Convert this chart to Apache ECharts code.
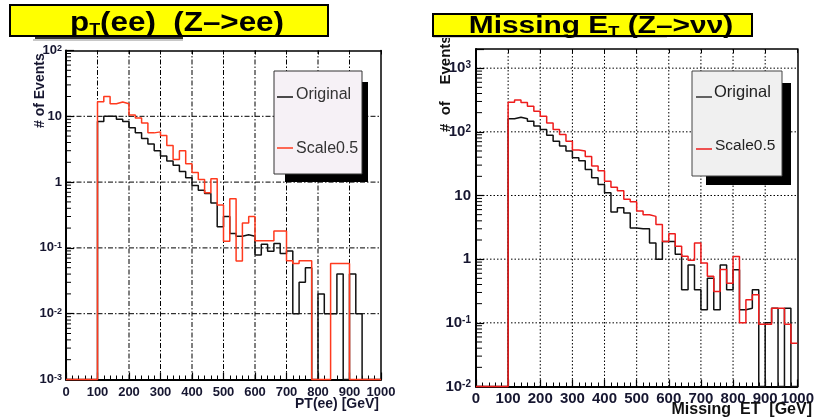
<!DOCTYPE html>
<html>
<head>
<meta charset="utf-8">
<script src="https://cdn.jsdelivr.net/npm/echarts@6/dist/echarts.min.js"></script>
<style>
  html, body { margin: 0; padding: 0; background: #ffffff; }
  #chart { width: 817px; height: 420px; }
</style>
</head>
<body>
<div id="chart"></div>
<script>
// Histograms: 50 bins of 20 GeV covering 0 - 1000 GeV (value = bin content, 0 = empty bin)
const BIN_WIDTH = 20;

// pT(ee) for Z -> ee
const ptOriginal = [
  0, 0, 0, 0, 0,
  8.3, 10, 10, 9.0, 8.3,
  6.7, 5.6, 4.6, 3.8, 3.0,
  2.5, 2.1, 1.8, 1.45, 1.16,
  0.89, 0.75, 0.67, 0.48, 0.21,
  0.30, 0.166, 0.15, 0.158, 0.15,
  0.078, 0.114, 0.089, 0.117, 0.082,
  0.09, 0.01, 0.03, 0.05, 0,
  0.02, 0.01, 0.01, 0.04, 0,
  0.04, 0.01, 0, 0, 0
];
const ptScale05 = [
  0, 0, 0, 0, 0,
  16.7, 20, 15.5, 16.5, 15.5,
  10.5, 9.4, 7.9, 5.6, 5.8,
  5.1, 3.6, 2.2, 3.0, 1.9,
  1.4, 1.1, 0.69, 1.12, 0.45,
  0.126, 0.56, 0.063, 0.24, 0.30,
  0.128, 0.128, 0.128, 0.18, 0.18,
  0.064, 0.058, 0.064, 0.064, 0,
  0, 0, 0.058, 0.058, 0.058,
  0, 0, 0, 0, 0
];

// Missing ET for Z -> nu nu
const metOriginal = [
  0, 0, 0, 0, 0,
  160, 170, 160, 147, 123,
  109, 88, 71, 60, 50,
  39, 35, 25.6, 19, 14.9,
  11, 5.5, 6.4, 5.3, 3.1,
  3.0, 3.0, 1.8, 1.0, 1.9,
  1.9, 1.2, 0.33, 0.81, 0.33,
  0.16, 0.5, 0.16, 0.81, 0.33,
  0.68, 0.16, 0.17, 0.33, 0,
  0.1, 0.17, 0, 0.17, 0
];
const metScale05 = [
  0, 0, 0, 0, 0,
  292, 315, 290, 253, 211,
  176, 138, 109, 91, 71,
  52, 50, 41, 29, 24.5,
  16.8, 13.5, 11.9, 8.7, 8.0,
  5.7, 5.0, 4.7, 3.5, 1.9,
  2.5, 1.6, 1.11, 0.96, 1.8,
  0.87, 0.54, 0.31, 0.69, 0.42,
  1.1, 0.1, 0.23, 0.275, 0.095,
  0.095, 0.17, 0.17, 0.095, 0.048
];

const seriesNames = ['Original', 'Scale0.5'];
const xRange = [0, 1000];
const xTickStep = 100;
const ptYRange = [1e-3, 1e2];
const metYRange = [1e-2, 2000];
// interior grid positions
const xGridValues = [100, 200, 300, 400, 500, 600, 700, 800, 900];
const ptYGridValues = [1e-2, 1e-1, 1, 10];
const metYGridValues = [1e-1, 1, 10, 100, 1000];

const FONT = '"Liberation Sans", Arial, sans-serif';
const LABEL_COLOR = '#161630';

// histogram outline: each bin becomes a flat segment; empty bins sit on the axis floor
function histSteps(vals, floor) {
  const pts = [];
  vals.forEach((v, i) => {
    const y = v > 0 ? v : floor;
    pts.push([i * BIN_WIDTH, y], [(i + 1) * BIN_WIDTH, y]);
  });
  return pts;
}

// 2..9 x 10^k positions for the small log ticks on the left axis
function logMinorTicks(lo, hi) {
  const out = [];
  for (let k = Math.floor(Math.log10(lo)); k < Math.ceil(Math.log10(hi)); k++) {
    for (let m = 2; m <= 9; m++) {
      const v = m * Math.pow(10, k);
      if (v > lo * 1.0001 && v < hi * 0.9999) out.push([xRange[0], v]);
    }
  }
  return out;
}

function logLabel(v) {
  const e = Math.log10(v);
  const r = Math.round(e);
  if (Math.abs(e - r) > 1e-6) return '';
  if (r === 0) return '1';
  if (r === 1) return '10';
  return '10{s|' + r + '}';
}

function makeXAxis(gridIndex, fontSize, margin) {
  return {
    type: 'value', gridIndex, min: xRange[0], max: xRange[1], interval: xTickStep,
    axisLine: { show: true, onZero: false, lineStyle: { color: '#000', width: 2 } },
    axisTick: { show: true, inside: true, length: 7, lineStyle: { color: '#000', width: 1.2 } },
    minorTick: { show: true, splitNumber: 5, length: 4, lineStyle: { color: '#000', width: 1 } },
    axisLabel: { margin, formatter: v => String(v), fontFamily: FONT, fontWeight: 'bold', fontSize, color: LABEL_COLOR },
    splitLine: { show: false }
  };
}
// top edge of the frame, with short ticks
function makeTopAxis(gridIndex) {
  return {
    type: 'value', gridIndex, position: 'top', min: xRange[0], max: xRange[1], interval: xTickStep,
    axisLine: { show: true, onZero: false, lineStyle: { color: '#000', width: 1.5 } },
    axisTick: { show: true, inside: true, length: 4, lineStyle: { color: '#000', width: 1 } },
    axisLabel: { show: false }, splitLine: { show: false }
  };
}
function makeYAxis(gridIndex, range, fontSize, margin) {
  return {
    type: 'log', logBase: 10, gridIndex, min: range[0], max: range[1],
    axisLine: { show: true, onZero: false, lineStyle: { color: '#000', width: 2 } },
    axisTick: { show: true, inside: true, length: 8, lineStyle: { color: '#000', width: 1.2 } },
    axisLabel: {
      margin, formatter: logLabel, fontFamily: FONT, fontWeight: 'bold', fontSize, color: LABEL_COLOR,
      rich: { s: { fontFamily: FONT, fontWeight: 'bold', fontSize: Math.round(fontSize * 0.68), color: LABEL_COLOR, verticalAlign: 'top', lineHeight: 10 } }
    },
    splitLine: { show: false }
  };
}
// right edge of the frame
function makeRightAxis(gridIndex, range) {
  return {
    type: 'log', logBase: 10, gridIndex, position: 'right', min: range[0], max: range[1],
    axisLine: { show: true, onZero: false, lineStyle: { color: '#000', width: 1.5 } },
    axisTick: { show: false }, axisLabel: { show: false }, splitLine: { show: false }
  };
}
function minorTickSeries(axisIdx, range, len) {
  return {
    type: 'custom', xAxisIndex: axisIdx, yAxisIndex: axisIdx, silent: true, clip: false, z: 5,
    data: logMinorTicks(range[0], range[1]),
    renderItem: (params, api) => {
      const c = api.coord([api.value(0), api.value(1)]);
      return { type: 'line', shape: { x1: c[0], y1: c[1], x2: c[0] + len, y2: c[1] },
               style: { stroke: '#000', lineWidth: 1 } };
    }
  };
}
// one two-point line series per grid line
function gridLine(axisIdx, p0, p1, dash) {
  return {
    type: 'line', xAxisIndex: axisIdx, yAxisIndex: axisIdx, data: [p0, p1],
    showSymbol: false, symbol: 'none', clip: false, silent: true, z: 3,
    lineStyle: { color: '#000', width: 1, type: dash }, emphasis: { disabled: true }
  };
}
function gridLines(axisIdx, xVals, yVals, yRange, dash) {
  return xVals.map(v => gridLine(axisIdx, [v, yRange[0]], [v, yRange[1]], dash))
    .concat(yVals.map(v => gridLine(axisIdx, [xRange[0], v], [xRange[1], v], dash)));
}
function histSeries(name, vals, axisIdx, floor, color) {
  return {
    name, type: 'line', xAxisIndex: axisIdx, yAxisIndex: axisIdx,
    data: histSteps(vals, floor), showSymbol: false, symbol: 'none', clip: false, z: 4,
    lineStyle: { color, width: 1.5 }, itemStyle: { color }, silent: true
  };
}

const dashDot = [5, 2, 1.5, 2];
const dotted = [1.5, 2];

const option = {
  animation: false,
  backgroundColor: '#ffffff',
  grid: [
    { left: 66, top: 50.5, width: 315, height: 329 },
    { left: 476, top: 49, width: 327, height: 337.5 }
  ],
  xAxis: [
    makeXAxis(0, 13, 6),
    makeXAxis(1, 15, 5),
    makeTopAxis(0),
    makeTopAxis(1)
  ],
  yAxis: [
    makeYAxis(0, ptYRange, 13, 4),
    makeYAxis(1, metYRange, 15, 5),
    makeRightAxis(0, ptYRange),
    makeRightAxis(1, metYRange)
  ],
  series: [].concat(
    gridLines(0, xGridValues, ptYGridValues, ptYRange, dashDot),
    gridLines(1, xGridValues, metYGridValues, metYRange, dotted),
    [
      minorTickSeries(0, ptYRange, 5),
      minorTickSeries(1, metYRange, 6),
      histSeries(seriesNames[0], ptOriginal, 0, ptYRange[0], '#111111'),
      histSeries(seriesNames[1], ptScale05, 0, ptYRange[0], '#ff3a1e'),
      histSeries(seriesNames[0], metOriginal, 1, metYRange[0], '#111111'),
      histSeries(seriesNames[1], metScale05, 1, metYRange[0], '#ee1c1c')
    ]
  ),
  graphic: [
    // left panel heading
    { type: 'rect', z: 10, shape: { x: 35, y: 36, width: 148, height: 3 }, style: { fill: '#333' } },
    { type: 'rect', z: 10, shape: { x: 33, y: 39, width: 150, height: 2 }, style: { fill: '#c8c8c8' } },
    { type: 'rect', z: 11, shape: { x: 10, y: 5, width: 318, height: 31 }, style: { fill: '#ffff00', stroke: '#000', lineWidth: 2 } },
    { type: 'text', z: 12, x: 177, y: 23, scaleX: 1.12, style: {
        text: '{b|p}{s|T}{b|(ee)  (Z–>ee)}', align: 'center', verticalAlign: 'middle',
        rich: {
          b: { fontFamily: FONT, fontWeight: 'bold', fontSize: 28, fill: '#000', lineHeight: 32 },
          s: { fontFamily: FONT, fontWeight: 'bold', fontSize: 16, fill: '#000', lineHeight: 17, verticalAlign: 'bottom' }
        } } },
    // right panel heading
    { type: 'rect', z: 10, shape: { x: 433, y: 36, width: 234, height: 2 }, style: { fill: '#cfcfcf' } },
    { type: 'rect', z: 11, shape: { x: 433, y: 14, width: 319, height: 22 }, style: { fill: '#ffff00', stroke: '#000', lineWidth: 2 } },
    { type: 'text', z: 12, x: 601, y: 26.5, scaleX: 1.3, style: {
        text: '{b|Missing E}{s|T}{b| (Z–>νν)}', align: 'center', verticalAlign: 'middle',
        rich: {
          b: { fontFamily: FONT, fontWeight: 'bold', fontSize: 23, fill: '#000', lineHeight: 26 },
          s: { fontFamily: FONT, fontWeight: 'bold', fontSize: 14, fill: '#000', lineHeight: 14, verticalAlign: 'bottom' }
        } } },
    // axis titles
    { type: 'text', z: 6, x: 40, y: 128, rotation: Math.PI / 2, style: {
        text: '# of Events', fontFamily: FONT, fontWeight: 'bold', fontSize: 14, fill: LABEL_COLOR,
        align: 'left', verticalAlign: 'middle' } },
    { type: 'text', z: 6, x: 446, y: 132, rotation: Math.PI / 2, style: {
        text: '#  of    Events', fontFamily: FONT, fontWeight: 'bold', fontSize: 15, fill: '#111',
        align: 'left', verticalAlign: 'middle' } },
    { type: 'text', z: 6, x: 379, y: 404, style: {
        text: 'PT(ee) [GeV]', fontFamily: FONT, fontWeight: 'bold', fontSize: 14, fill: LABEL_COLOR,
        align: 'right', verticalAlign: 'middle' } },
    { type: 'text', z: 6, x: 812, y: 410, style: {
        text: 'Missing  ET  [GeV]', fontFamily: FONT, fontWeight: 'bold', fontSize: 16, fill: '#111',
        align: 'right', verticalAlign: 'middle' } },
    // left legend
    { type: 'rect', z: 20, shape: { x: 285, y: 82, width: 83, height: 100 }, style: { fill: '#000' } },
    { type: 'rect', z: 21, shape: { x: 274, y: 71, width: 88, height: 103 }, style: { fill: '#f6f1f6', stroke: '#333', lineWidth: 1 } },
    { type: 'line', z: 22, shape: { x1: 277, y1: 97, x2: 293, y2: 97 }, style: { stroke: '#111', lineWidth: 1.5 } },
    { type: 'text', z: 22, x: 296, y: 95, style: { text: seriesNames[0], fontFamily: FONT, fontSize: 16, fill: '#333', align: 'left', verticalAlign: 'middle' } },
    { type: 'line', z: 22, shape: { x1: 277, y1: 148, x2: 293, y2: 148 }, style: { stroke: '#ff3a1e', lineWidth: 1.5 } },
    { type: 'text', z: 22, x: 296, y: 149, style: { text: seriesNames[1], fontFamily: FONT, fontSize: 16, fill: '#333', align: 'left', verticalAlign: 'middle' } },
    // right legend
    { type: 'rect', z: 20, shape: { x: 706, y: 83, width: 85, height: 102 }, style: { fill: '#000' } },
    { type: 'rect', z: 21, shape: { x: 692, y: 71, width: 90, height: 105 }, style: { fill: '#f0f0f0', stroke: '#444', lineWidth: 1 } },
    { type: 'line', z: 22, shape: { x1: 696, y1: 97, x2: 712, y2: 97 }, style: { stroke: '#333', lineWidth: 1.5 } },
    { type: 'text', z: 22, x: 714, y: 92, style: { text: seriesNames[0], fontFamily: FONT, fontSize: 16.5, fill: '#222', align: 'left', verticalAlign: 'middle' } },
    { type: 'line', z: 22, shape: { x1: 696, y1: 149, x2: 712, y2: 149 }, style: { stroke: '#ee1c1c', lineWidth: 1.5 } },
    { type: 'text', z: 22, x: 715, y: 146, style: { text: seriesNames[1], fontFamily: FONT, fontSize: 15.5, fill: '#222', align: 'left', verticalAlign: 'middle' } }
  ]
};

const chart = echarts.init(document.getElementById('chart'), null, { renderer: 'canvas' });
chart.setOption(option);
</script>
</body>
</html>
